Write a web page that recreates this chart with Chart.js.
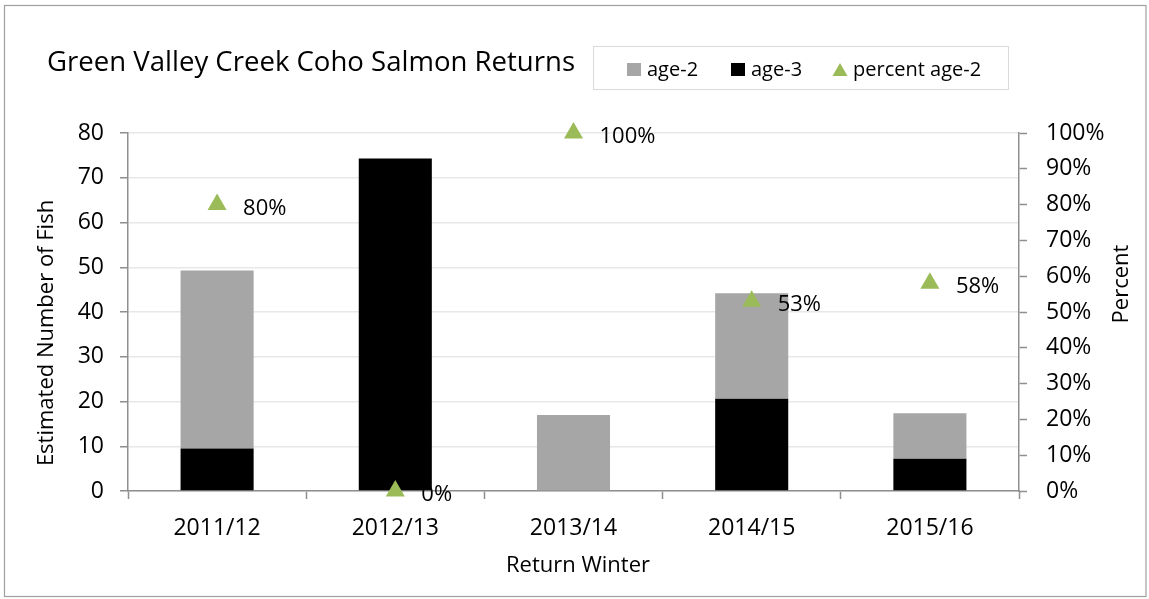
<!DOCTYPE html>
<html>
<head>
<meta charset="utf-8">
<script src="https://cdn.jsdelivr.net/npm/chart.js@4.4.1/dist/chart.umd.min.js"></script>
<style>
  html, body { margin: 0; padding: 0; background: #ffffff; }
  #wrap { width: 1149px; height: 599px; }
</style>
</head>
<body>
<div id="wrap"><canvas id="c" width="1149" height="599"></canvas></div>
<script>
// ---- data ----
const categories = ['2011/12', '2012/13', '2013/14', '2014/15', '2015/16'];
const age2 = [39.8, 0, 17.0, 23.6, 10.2];
const age3 = [9.5, 74.3, 0, 20.6, 7.2];
const percentAge2 = [80, 0, 100, 53, 58];
const leftAxisRange = [0, 80, 10];     // min, max, step
const rightAxisRange = [0, 100, 10];   // min, max, step (percent)
const titleText = 'Green Valley Creek Coho Salmon Returns';
const xTitle = 'Return Winter';
const yTitle = 'Estimated Number of Fish';
const y2Title = 'Percent';

// ---- styles ----
const FONT = "'Open Sans', sans-serif";
const AXIS = '#8f8f8f';
const GRID = '#e8e8e8';
const GREY_BAR = '#a6a6a6';
const BLACK_BAR = '#000000';
const GREEN = '#9bbb59';

Chart.defaults.font.family = FONT;
Chart.defaults.color = '#000';

function drawTriangle(ctx, cx, cy, w, h, color) {
  ctx.beginPath();
  ctx.moveTo(cx, cy - h / 2);
  ctx.lineTo(cx + w / 2, cy + h / 2);
  ctx.lineTo(cx - w / 2, cy + h / 2);
  ctx.closePath();
  ctx.fillStyle = color;
  ctx.fill();
}

const decor = {
  id: 'decor',
  beforeDraw(chart) {
    const ctx = chart.ctx;
    ctx.save();
    ctx.fillStyle = '#fff';
    ctx.fillRect(0, 0, chart.width, chart.height);
    ctx.strokeStyle = '#a0a0a0';
    ctx.lineWidth = 1.2;
    ctx.strokeRect(4.5, 5.5, 1141.5, 591);
    ctx.restore();
  },
  afterDatasetsDraw(chart) {
    const ctx = chart.ctx;
    const idx = chart.data.datasets.findIndex(d => d.label === 'percent age-2');
    const meta = chart.getDatasetMeta(idx);
    ctx.save();
    ctx.font = '22px ' + FONT;
    ctx.fillStyle = '#000';
    ctx.textAlign = 'left';
    ctx.textBaseline = 'alphabetic';
    meta.data.forEach((pt, i) => {
      ctx.fillText(percentAge2[i] + '%', pt.x + 26, pt.y + 10);
    });
    ctx.restore();
  },
  afterDraw(chart) {
    const ctx = chart.ctx;
    ctx.save();
    ctx.fillStyle = '#000';
    // title, fitted to the reference width
    ctx.font = '23px ' + FONT;
    const tw = ctx.measureText(titleText).width;
    const ts = 23 * 528 / tw;
    ctx.font = ts.toFixed(2) + 'px ' + FONT;
    ctx.textAlign = 'left';
    ctx.textBaseline = 'alphabetic';
    ctx.fillText(titleText, 47, 71);

    // legend box
    ctx.strokeStyle = '#d9d9d9';
    ctx.lineWidth = 1;
    ctx.strokeRect(593.5, 46.5, 415, 43);
    ctx.font = '20px ' + FONT;
    const ds = chart.data.datasets;
    const a2 = ds.find(d => d.label === 'age-2');
    const a3 = ds.find(d => d.label === 'age-3');
    const pc = ds.find(d => d.label === 'percent age-2');
    ctx.fillStyle = a2.backgroundColor;
    ctx.fillRect(627, 63, 14, 13);
    ctx.fillStyle = '#000';
    ctx.fillText(a2.label, 647, 76);
    ctx.fillStyle = a3.backgroundColor;
    ctx.fillRect(731, 63, 14, 13);
    ctx.fillStyle = '#000';
    ctx.fillText(a3.label, 751, 76);
    drawTriangle(ctx, 840, 69.5, 15, 13, pc.pointBackgroundColor);
    ctx.fillStyle = '#000';
    ctx.fillText(pc.label, 853, 76);

    // axis titles
    ctx.font = '22px ' + FONT;
    ctx.textAlign = 'center';
    ctx.fillText(xTitle, 578, 572);

    ctx.save();
    ctx.translate(53, 333);
    ctx.rotate(-Math.PI / 2);
    ctx.fillText(yTitle, 0, 0);
    ctx.restore();

    ctx.save();
    ctx.translate(1128, 284);
    ctx.rotate(-Math.PI / 2);
    ctx.fillText(y2Title, 0, 0);
    ctx.restore();

    ctx.restore();
  }
};

new Chart(document.getElementById('c'), {
  type: 'bar',
  data: {
    labels: categories,
    datasets: [
      {
        type: 'line',
        label: 'percent age-2',
        data: percentAge2,
        yAxisID: 'y2',
        showLine: false,
        clip: false,
        pointStyle: 'triangle',
        pointRadius: 11,
        pointHoverRadius: 11,
        pointBackgroundColor: GREEN,
        pointBorderColor: GREEN,
        pointBorderWidth: 0,
        order: 1
      },
      {
        label: 'age-3',
        data: age3,
        backgroundColor: BLACK_BAR,
        yAxisID: 'y',
        borderWidth: 0,
        barPercentage: 0.41,
        categoryPercentage: 1.0,
        order: 2
      },
      {
        label: 'age-2',
        data: age2,
        backgroundColor: GREY_BAR,
        yAxisID: 'y',
        borderWidth: 0,
        barPercentage: 0.41,
        categoryPercentage: 1.0,
        order: 2
      }
    ]
  },
  options: {
    responsive: false,
    animation: false,
    events: [],
    layout: { padding: { top: 133, left: 0, right: 0, bottom: 0 } },
    plugins: {
      legend: { display: false },
      title: { display: false },
      tooltip: { enabled: false }
    },
    scales: {
      x: {
        type: 'category',
        stacked: true,
        offset: true,
        grid: {
          offset: true,
          drawOnChartArea: false,
          drawTicks: true,
          tickLength: 8,
          tickColor: AXIS,
          tickWidth: 1.5
        },
        border: { color: AXIS, width: 1.5 },
        ticks: { font: { size: 23 }, color: '#000', padding: 16, maxRotation: 0, autoSkip: false },
        afterFit(scale) { scale.height = 108; }
      },
      y: {
        position: 'left',
        stacked: true,
        min: leftAxisRange[0],
        max: leftAxisRange[1],
        ticks: { stepSize: leftAxisRange[2], font: { size: 23 }, color: '#000', padding: 16 },
        grid: { color: GRID, lineWidth: 1.5, tickColor: AXIS, tickLength: 8, tickWidth: 1.5 },
        border: { color: AXIS, width: 1.5 },
        afterFit(scale) { scale.width = 128; }
      },
      y2: {
        position: 'right',
        min: rightAxisRange[0],
        max: rightAxisRange[1],
        ticks: {
          stepSize: rightAxisRange[2],
          font: { size: 23 },
          color: '#000',
          padding: 19,
          callback: v => v + '%'
        },
        grid: { drawOnChartArea: false, tickColor: AXIS, tickLength: 8, tickWidth: 1.5 },
        border: { color: AXIS, width: 1.5 },
        afterFit(scale) { scale.width = 130; }
      }
    }
  },
  plugins: [decor]
});
</script>
</body>
</html>
